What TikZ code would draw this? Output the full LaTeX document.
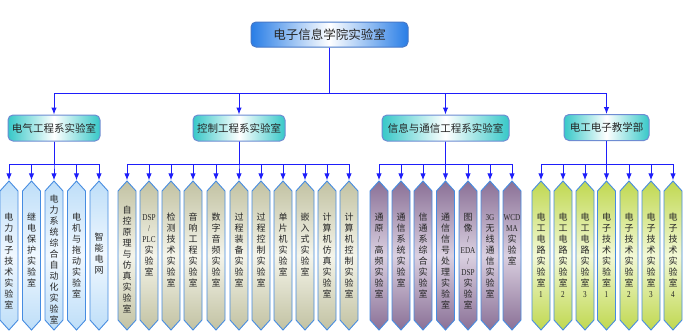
\documentclass[tikz,border=0pt]{standalone}
\usepackage{fontspec}
\setmainfont{Noto Sans CJK SC}
\newfontfamily\latfont{Liberation Serif}
\usetikzlibrary{shapes.symbols,arrows.meta}
\makeatletter
\newcommand\vt[1]{\vtop{\baselineskip=11pt\lineskiplimit=-100pt\lineskip=0pt\@tfor\vtc:=#1\do{\hbox to 18pt{\hss\vtc\hss}}}}
\makeatother
\newcommand\lat[1]{{\latfont\fontsize{9}{9}\selectfont\scalebox{0.8}[1]{#1}}}
\definecolor{linecol}{RGB}{30,30,250}
\definecolor{topblue}{RGB}{40,125,230}
\definecolor{topborder}{RGB}{70,120,200}
\definecolor{tealc}{RGB}{55,200,200}
\definecolor{deptborder}{RGB}{110,140,210}
\definecolor{hexborder}{RGB}{70,140,225}
\definecolor{eOut}{RGB}{190,222,248}
\definecolor{eMid}{RGB}{240,248,255}
\definecolor{cOut}{RGB}{194,194,162}
\definecolor{cMid}{RGB}{244,244,234}
\definecolor{iOut}{RGB}{138,112,150}
\definecolor{iMid}{RGB}{218,208,224}
\definecolor{tOut}{RGB}{192,216,80}
\definecolor{tMid}{RGB}{242,248,214}
\tikzset{
  arr/.style={draw=linecol, line width=1pt, -{Latex[length=7pt,width=5.5pt]}},
  topbox/.style={rounded corners=5pt, draw=topborder, line width=1pt,
    left color=topblue, right color=topblue, middle color=white,
    minimum width=157pt, minimum height=25pt, inner sep=0pt,
    font=\fontsize{12.5}{14}\selectfont, text=black!85},
  deptbox/.style={rounded corners=5pt, draw=deptborder, line width=1pt,
    left color=tealc, right color=tealc, middle color=white,
    minimum height=26pt, inner sep=0pt,
    font=\fontsize{10.5}{12}\selectfont, text=black!85},
  hexbase/.style={shape=signal, signal to=north and south, signal pointer angle=84,
    minimum width=18pt, minimum height=129pt, inner sep=0pt, draw=hexborder, line width=0.9pt},
  hexE/.style={hexbase, top color=eOut, bottom color=eOut, middle color=eMid},
  hexC/.style={hexbase, top color=cOut, bottom color=cOut, middle color=cMid},
  hexI/.style={hexbase, top color=iOut, bottom color=iOut, middle color=iMid},
  hexT/.style={hexbase, top color=tOut, bottom color=tOut, middle color=tMid},
  hextext/.style={anchor=base, inner sep=0pt, font=\fontsize{9}{11}\selectfont, text=black!85},
}
\newcommand\hexnode[5]{%
  \node[#3] (#1) at (#2,255.5) {};
  \node[hextext] (#1t) at (#2,#4) {\vt{#5}};}
\begin{document}
\begin{tikzpicture}[x=1pt,y=-1pt]
\fill[white] (0,0) rectangle (687,335);
\useasboundingbox (0,0) rectangle (687,335);
% top
\node[topbox] (top) at (329.5,34.5) {电子信息学院实验室};
% departments
\node[deptbox, minimum width=92pt] (dE) at (54,128) {电气工程系实验室};
\node[deptbox, minimum width=92pt] (dC) at (239,128) {控制工程系实验室};
\node[deptbox, minimum width=127pt] (dI) at (445.5,128) {信息与通信工程系实验室};
\node[deptbox, minimum width=85pt] (dT) at (606.5,127.5) {电工电子教学部};
\coordinate (bus0) at (329.5,93);
\draw[arr] (top.south) -- (bus0) -| (dE.north);
\draw[arr] (top.south) -- (bus0) -| (dC.north);
\draw[arr] (top.south) -- (bus0) -| (dI.north);
\draw[arr] (top.south) -- (bus0) -| (dT.north);
% hexes: electrical
\hexnode{e1}{9}{hexE}{220.5}{电力电子技术实验室}
\hexnode{e2}{31.5}{hexE}{220.5}{继电保护实验室}
\hexnode{e3}{54}{hexE}{202.5}{电力系统综合自动化实验室}
\hexnode{e4}{76.5}{hexE}{220.5}{电机与拖动实验室}
\hexnode{e5}{99}{hexE}{240.5}{智能电网}
% control
\hexnode{c1}{127}{hexC}{213.5}{自控原理与仿真实验室}
\hexnode{c2}{149}{hexC}{220.5}{{\lat{DSP}}{\lat{/}}{\lat{PLC}}实验室}
\hexnode{c3}{171}{hexC}{220.5}{检测技术实验室}
\hexnode{c4}{193}{hexC}{220.5}{音响工程实验室}
\hexnode{c5}{216}{hexC}{220.5}{数字音频实验室}
\hexnode{c6}{239}{hexC}{220.5}{过程装备实验室}
\hexnode{c7}{261}{hexC}{220.5}{过程控制实验室}
\hexnode{c8}{283}{hexC}{220.5}{单片机实验室}
\hexnode{c9}{305}{hexC}{220.5}{嵌入式实验室}
\hexnode{c10}{327}{hexC}{220.5}{计算机仿真实验室}
\hexnode{c11}{349}{hexC}{220.5}{计算机控制实验室}
% info
\hexnode{i1}{379}{hexI}{220.5}{通原{\lat{/}}高频实验室}
\hexnode{i2}{401}{hexI}{220.5}{通信系统实验室}
\hexnode{i3}{423}{hexI}{220.5}{信通系综合实验室}
\hexnode{i4}{445.5}{hexI}{220.5}{通信信号处理实验室}
\hexnode{i5}{468}{hexI}{220.5}{图像{\lat{/}}{\lat{EDA}}{\lat{/}}{\lat{DSP}}实验室}
\hexnode{i6}{490}{hexI}{220.5}{{\lat{3G}}无线通信实验室}
\hexnode{i7}{512}{hexI}{220.5}{{\lat{WCD}}{\lat{MA}}实验室}
% teaching
\hexnode{t1}{541}{hexT}{220.5}{电工电路实验室{\lat{1}}}
\hexnode{t2}{563}{hexT}{220.5}{电工电路实验室{\lat{2}}}
\hexnode{t3}{585}{hexT}{220.5}{电工电路实验室{\lat{3}}}
\hexnode{t4}{606.5}{hexT}{220.5}{电子技术实验室{\lat{1}}}
\hexnode{t5}{629}{hexT}{220.5}{电子技术实验室{\lat{2}}}
\hexnode{t6}{651}{hexT}{220.5}{电子技术实验室{\lat{3}}}
\hexnode{t7}{673}{hexT}{220.5}{电子技术实验室{\lat{4}}}
% buses
\coordinate (bE) at (54,164);
\coordinate (bC) at (239,164);
\coordinate (bI) at (445.5,164);
\coordinate (bT) at (606.5,164);
\foreach \h in {e1,e2,e3,e4,e5} \draw[arr] (dE.south) -- (bE) -| (\h.north);
\foreach \h in {c1,c2,c3,c4,c5,c6,c7,c8,c9,c10,c11} \draw[arr] (dC.south) -- (bC) -| (\h.north);
\foreach \h in {i1,i2,i3,i4,i5,i6,i7} \draw[arr] (dI.south) -- (bI) -| (\h.north);
\foreach \h in {t1,t2,t3,t4,t5,t6,t7} \draw[arr] (dT.south) -- (bT) -| (\h.north);
\end{tikzpicture}
\end{document}
